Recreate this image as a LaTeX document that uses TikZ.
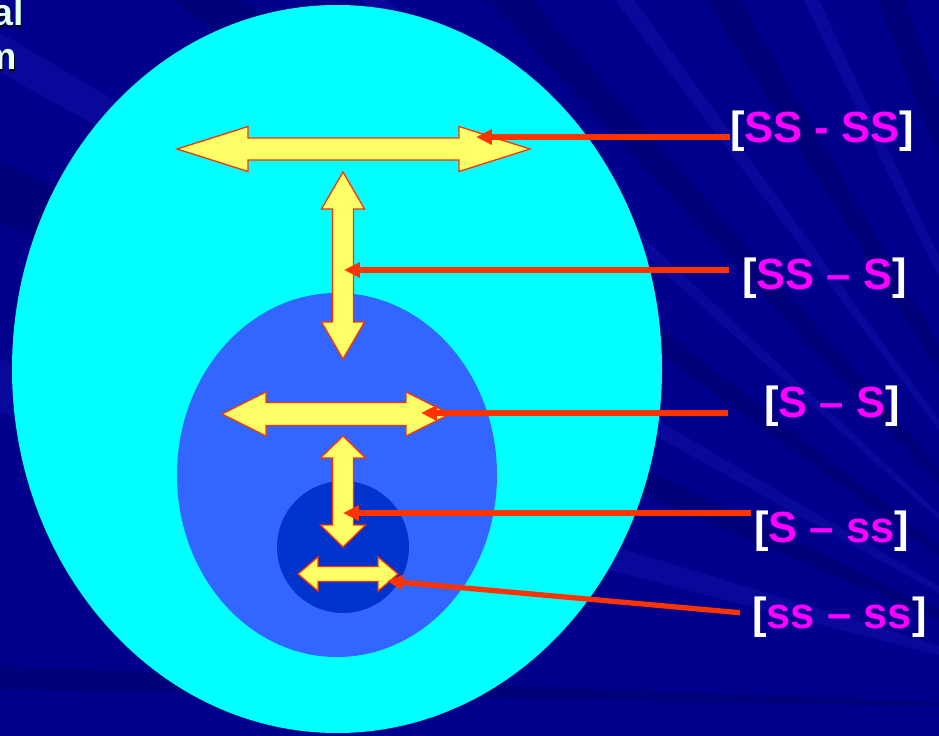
\documentclass[tikz,border=0pt]{standalone}
\usepackage{fontspec}
\setmainfont{Liberation Sans}
\usetikzlibrary{arrows.meta,calc}

\definecolor{navybg}{RGB}{0,0,140}
\definecolor{raydark}{RGB}{0,0,122}
\definecolor{raylight}{RGB}{8,8,154}
\definecolor{outercyan}{RGB}{0,255,255}
\definecolor{midblue}{RGB}{51,102,255}
\definecolor{innerblue}{RGB}{0,51,204}
\definecolor{arrowyellow}{RGB}{255,255,102}
\definecolor{arroworange}{RGB}{255,51,0}
\definecolor{pairpink}{RGB}{255,0,255}
\definecolor{titlewhite}{RGB}{225,255,255}

\tikzset{
  yarrow/.style={fill=arrowyellow, draw=arroworange, line width=1.1pt, line join=miter},
  redarrow/.style={draw=arroworange, line width=4.5pt, -{Triangle[length=13.5pt,width=12.5pt]}},
  pairlabel/.style={font=\bfseries\fontsize{37.2}{40}\selectfont, text=pairpink, inner sep=0pt, anchor=base west},
  titlebit/.style={font=\bfseries\fontsize{32}{36}\selectfont, inner sep=0pt, anchor=base east},
}

% double arrows: tips, centre line, head length, head half width, shaft half width
\newcommand{\hdarrow}[6]{%
  \filldraw[yarrow] (#1,#3) -- (#1+#4,#3-#5) -- (#1+#4,#3-#6) -- (#2-#4,#3-#6) -- (#2-#4,#3-#5) -- (#2,#3)
    -- (#2-#4,#3+#5) -- (#2-#4,#3+#6) -- (#1+#4,#3+#6) -- (#1+#4,#3+#5) -- cycle;}
\newcommand{\vdarrow}[6]{%
  \filldraw[yarrow] (#1,#2) -- (#1+#5,#2+#4) -- (#1+#6,#2+#4) -- (#1+#6,#3-#4) -- (#1+#5,#3-#4) -- (#1,#3)
    -- (#1-#5,#3-#4) -- (#1-#6,#3-#4) -- (#1-#6,#2+#4) -- (#1-#5,#2+#4) -- cycle;}
\newcommand{\wopen}{\textcolor{white}{[}}
\newcommand{\wclose}{\textcolor{white}{]}}

\begin{document}
\begin{tikzpicture}[x=0.03cm, y=-0.03cm]
    \useasboundingbox (0,0) rectangle (939,736);
    \fill[navybg] (0,0) rectangle (939,736);
    % background rays
    \foreach \a/\b/\c in {181/182.2/raydark, 194.5/197/raylight, 203/205.5/raydark, 209/210.5/raylight,
        216/218/raydark, 222/223/raylight, 227/229/raydark, 233/234/raylight, 238/240/raydark,
        244/245/raylight, 249/251/raydark, 255/256/raylight}
        \fill[\c] (1150,710) -- +(\a:2000) -- +(\b:2000) -- cycle;
    % cut-off title
    \node[titlebit, text=black] (titleshadowA) at (25.5,27.5) {al};
    \node[titlebit, text=titlewhite] (titleA) at (24,26) {al};
    \node[titlebit, text=black] (titleshadowB) at (18.5,71.5) {m};
    \node[titlebit, text=titlewhite] (titleB) at (17,70) {m};
    % nested regions
    \fill[outercyan] (337,369) ellipse [x radius=325*0.03cm, y radius=364*0.03cm];
    \fill[midblue] (337,475) ellipse [x radius=160*0.03cm, y radius=182*0.03cm];
    \fill[innerblue] (343,547) circle [radius=66*0.03cm];
    % interactions
    \hdarrow{177}{530}{149}{71}{22.5}{11}
    \vdarrow{343}{172}{359}{37}{21.5}{10.5}
    \hdarrow{222}{450}{414}{44}{22}{11.5}
    \vdarrow{343}{436}{547}{22}{22.5}{10.5}
    \hdarrow{298}{398}{574}{20}{17}{7.5}
    \coordinate (t1) at (476,137);
    \coordinate (t2) at (344,270);
    \coordinate (t3) at (421,413);
    \coordinate (t4) at (343,513);
    \coordinate (t5) at (387,581);
    % labels
    \node[pairlabel] (lSSSS) at (730,143) {\wopen SS - SS\wclose};
    \node[pairlabel] (lSSS) at (742,290) {\wopen SS -- S\wclose};
    \node[pairlabel] (lSS) at (764,417) {\wopen S -- S\wclose};
    \node[pairlabel] (lSss) at (754,542) {\wopen S -- ss\wclose};
    \node[pairlabel] (lssss) at (752,628) {\wopen ss -- ss\wclose};
    \draw[redarrow] ($(lSSSS.west |- t1)$) -- (t1);
    \draw[redarrow] ($(lSSS.west |- t2)+(-13,0)$) -- (t2);
    \draw[redarrow] ($(lSS.west |- t3)+(-36,0)$) -- (t3);
    \draw[redarrow] ($(lSss.west |- t4)+(-3,0)$) -- (t4);
    \draw[redarrow] ($(lssss.west)+(-12,-4)$) -- (t5);
\end{tikzpicture}
\end{document}
